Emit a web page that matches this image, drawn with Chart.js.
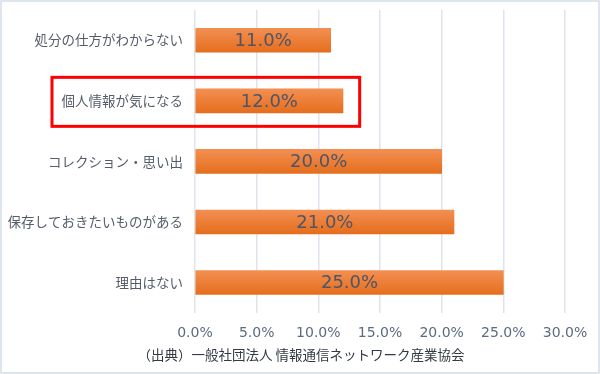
<!DOCTYPE html>
<html lang="ja">
<head>
<meta charset="utf-8">
<script src="https://cdn.jsdelivr.net/npm/chart.js@4.4.1/dist/chart.umd.min.js"></script>
<style>
  html, body { margin: 0; padding: 0; background: #fff; }
  #wrap {
    width: 600px; height: 374px; box-sizing: border-box;
    border: 2px solid #dfe5ec; background: #fff;
  }
</style>
</head>
<body>
<div id="wrap"><canvas id="chart"></canvas></div>
<script>
// 理由（回答割合 %）
const categories = ['処分の仕方がわからない', '個人情報が気になる', 'コレクション・思い出', '保存しておきたいものがある', '理由はない'];
const values = [11.0, 12.0, 20.0, 21.0, 25.0];
const xTicks = [0, 5, 10, 15, 20, 25, 30];
const sourceNote = '（出典）一般社団法人 情報通信ネットワーク産業協会';
const highlightIndex = 1;

const FONT = '"Noto Sans CJK JP", "Noto Sans", sans-serif';
const NUM_FONT = '"DejaVu Sans", sans-serif';

// バーの中央に値を表示
const valueLabels = {
    id: 'valueLabels',
    afterDatasetsDraw(chart) {
        const ctx = chart.ctx;
        const meta = chart.getDatasetMeta(0);
        ctx.save();
        ctx.font = '18px ' + NUM_FONT;
        ctx.fillStyle = '#4d5566';
        ctx.textAlign = 'center';
        ctx.textBaseline = 'middle';
        meta.data.forEach((bar, i) => {
            const cx = (bar.base + bar.x) / 2;
            ctx.fillText(values[i].toFixed(1) + '%', cx, bar.y + 1);
        });
        ctx.restore();
    }
};

// 強調枠
const highlightBox = {
    id: 'highlightBox',
    afterDraw(chart) {
        const { x, y } = chart.scales;
        const yc = y.getPixelForValue(highlightIndex);
        const left = chart.chartArea.left - 143;
        const right = x.getPixelForValue(values[highlightIndex] + 1.35);
        const ctx = chart.ctx;
        ctx.save();
        ctx.strokeStyle = '#ff0000';
        ctx.lineWidth = 3;
        ctx.strokeRect(left, yc - 23.5, right - left, 49);
        ctx.restore();
    }
};

const ctx = document.getElementById('chart').getContext('2d');
new Chart(ctx, {
    type: 'bar',
    data: {
        labels: categories,
        datasets: [{
            data: values,
            backgroundColor: function(c) {
                const chart = c.chart;
                const y = chart.scales.y;
                if (!y || c.dataIndex === undefined) return '#ee7b30';
                const yc = y.getPixelForValue(c.dataIndex);
                if (!isFinite(yc)) return '#ee7b30';
                const g = chart.ctx.createLinearGradient(0, yc - 12, 0, yc + 12);
                g.addColorStop(0, '#f38f52');
                g.addColorStop(1, '#e56e1d');
                return g;
            },
            borderWidth: 0,
            barThickness: 24
        }]
    },
    options: {
        indexAxis: 'y',
        responsive: true,
        maintainAspectRatio: false,
        animation: false,
        layout: { padding: { top: 8, right: 0, bottom: 9, left: 2 } },
        plugins: {
            legend: { display: false },
            tooltip: { enabled: false },
            title: {
                display: true,
                position: 'bottom',
                text: sourceNote,
                color: '#333a44',
                font: { family: FONT, size: 13.5, weight: 'normal' },
                padding: { top: 6, bottom: 0 }
            }
        },
        scales: {
            x: {
                min: 0,
                max: 30,
                afterBuildTicks: (s) => { s.ticks = xTicks.map(v => ({ value: v })); },
                afterFit: (s) => { s.height = 28; s.paddingRight = 33; },
                ticks: {
                    callback: (v) => v.toFixed(1) + '%',
                    color: '#5b6b80',
                    font: { family: NUM_FONT, size: 14 },
                    padding: 12,
                    maxRotation: 0
                },
                grid: { color: '#dfe4ec', lineWidth: 1.5, drawTicks: false },
                border: { display: false }
            },
            y: {
                afterFit: (s) => { s.width = 191; s.paddingTop = 0; s.paddingBottom = 0; },
                ticks: {
                    color: '#555d6b',
                    font: { family: FONT, size: 13.5 },
                    padding: 4
                },
                grid: { display: false },
                border: { display: false }
            }
        }
    },
    plugins: [valueLabels, highlightBox]
});
</script>
</body>
</html>
